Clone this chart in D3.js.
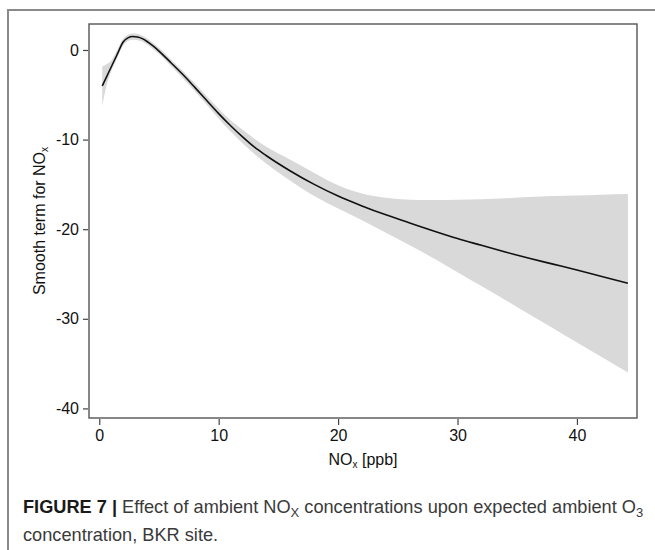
<!DOCTYPE html>
<html>
<head>
<meta charset="utf-8">
<script src="https://cdn.jsdelivr.net/npm/d3@7"></script>
<style>
  body { margin: 0; background: #fff; }
  svg { display: block; font-family: 'Liberation Sans', Arial, sans-serif; }
  .axis text { font-size: 16px; fill: #111; }
  .axis line { stroke: #444; stroke-width: 1.2; }
  .caption { font-size: 18.2px; fill: #3a3a3a; }
</style>
</head>
<body>
<div id="chart"></div>
<script>
const nox = [0.25, 0.6, 1.0, 1.5, 2.0, 2.4, 2.8, 3.2, 3.6, 4.0, 4.5, 5, 6, 7, 8, 9, 10, 11, 12, 13,
  14, 16, 18, 20, 22, 24, 26, 28, 30, 32, 34, 36, 38, 40, 42, 44.27];

// fitted smooth term
const fit = [-4.0, -3.02, -1.9, -0.5, 0.9, 1.35, 1.5, 1.45, 1.27, 0.95, 0.45, -0.12, -1.42, -2.74, -4.17,
  -5.64, -7.1, -8.45, -9.7, -10.85, -11.8, -13.5, -15.0, -16.3, -17.4, -18.4, -19.3, -20.2, -21.05,
  -21.8, -22.55, -23.25, -23.9, -24.55, -25.25, -26.04];

// confidence band
const upper = [-1.85, -1.6, -1.2, 0.0, 1.25, 1.7, 1.85, 1.8, 1.6, 1.3, 0.8, 0.25, -1.05, -2.35, -3.75,
  -5.15, -6.55, -7.85, -8.9, -9.9, -10.8, -12.25, -13.72, -15.1, -16.02, -16.5, -16.7, -16.75,
  -16.72, -16.65, -16.55, -16.4, -16.3, -16.25, -16.15, -16.07];
const lower = [-6.25, -4.0, -2.4, -0.9, 0.5, 1.0, 1.15, 1.1, 0.95, 0.6, 0.1, -0.45, -1.8, -3.15, -4.6,
  -6.1, -7.65, -9.1, -10.4, -11.6, -12.7, -14.6, -16.3, -17.7, -19.0, -20.4, -21.8, -23.25, -24.8,
  -26.35, -27.9, -29.5, -31.05, -32.65, -34.2, -36.0];

const xTicks = [0, 10, 20, 30, 40];
const yTicks = [0, -10, -20, -30, -40];

const width = 655;
const height = 550;
const plot = { left: 89, right: 637, top: 24, bottom: 418 };

const svg = d3.select('#chart')
  .append('svg')
  .attr('width', width)
  .attr('height', height);

// figure frame (left and top edge only)
svg.append('path')
  .attr('d', `M8,${height}V10H${width}`)
  .attr('fill', 'none')
  .attr('stroke', '#8a8a8a')
  .attr('stroke-width', 2);

const x = d3.scaleLinear()
  .domain([-0.86, 45.03])
  .range([plot.left, plot.right]);

const y = d3.scaleLinear()
  .domain([-41.07, 2.9])
  .range([plot.bottom, plot.top]);

const rows = nox.map((v, i) => ({
  x: v, fit: fit[i], upper: upper[i], lower: lower[i],
}));

const band = d3.area()
  .x(d => x(d.x))
  .y0(d => y(d.lower))
  .y1(d => y(d.upper))
  .curve(d3.curveMonotoneX);

const line = d3.line()
  .x(d => x(d.x))
  .y(d => y(d.fit))
  .curve(d3.curveMonotoneX);

svg.append('path')
  .datum(rows)
  .attr('d', band)
  .attr('fill', '#d9d9d9');

svg.append('path')
  .datum(rows)
  .attr('d', line)
  .attr('fill', 'none')
  .attr('stroke', '#111')
  .attr('stroke-width', 1.6);

svg.append('rect')
  .attr('x', plot.left)
  .attr('y', plot.top)
  .attr('width', plot.right - plot.left)
  .attr('height', plot.bottom - plot.top)
  .attr('fill', 'none')
  .attr('stroke', '#555')
  .attr('stroke-width', 1.4);

const axisBottom = svg.append('g')
  .attr('class', 'axis')
  .attr('transform', `translate(0, ${plot.bottom + 1})`)
  .call(d3.axisBottom(x).tickValues(xTicks).tickSize(6).tickPadding(5));
axisBottom.select('.domain').remove();

const axisLeft = svg.append('g')
  .attr('class', 'axis')
  .attr('transform', `translate(${plot.left - 1}, 0)`)
  .call(d3.axisLeft(y).tickValues(yTicks).tickSize(5).tickPadding(4));
axisLeft.select('.domain').remove();
axisLeft.selectAll('text').text(d => (d < 0 ? `-${Math.abs(d)}` : d));

axisBottom.selectAll('text').attr('font-family', null).attr('font-size', null);
axisLeft.selectAll('text').attr('font-family', null).attr('font-size', null);

// axis titles
const xTitle = svg.append('text')
  .attr('x', (plot.left + plot.right) / 2)
  .attr('y', 465)
  .attr('text-anchor', 'middle')
  .attr('font-size', 16)
  .attr('fill', '#111');
xTitle.append('tspan').text('NO');
xTitle.append('tspan').attr('font-size', 10).attr('dy', 3).text('x');
xTitle.append('tspan').attr('dy', -3).text(' [ppb]');

const yTitle = svg.append('text')
  .attr('transform', `translate(45, ${(plot.top + plot.bottom) / 2}) rotate(-90)`)
  .attr('text-anchor', 'middle')
  .attr('font-size', 16)
  .attr('fill', '#111');
yTitle.append('tspan').text('Smooth term for NO');
yTitle.append('tspan').attr('font-size', 10).attr('dy', 3).text('x');

// figure caption
const cap1 = svg.append('text')
  .attr('class', 'caption')
  .attr('x', 23)
  .attr('y', 513);
cap1.append('tspan').attr('font-weight', 'bold').attr('fill', '#1a1a1a').text('FIGURE 7 | ');
cap1.append('tspan').text('Effect of ambient NO');
cap1.append('tspan').attr('font-size', 13).attr('dy', 4).text('X');
cap1.append('tspan').attr('dy', -4).text(' concentrations upon expected ambient O');
cap1.append('tspan').attr('font-size', 13).attr('dy', 4).text('3');

svg.append('text')
  .attr('class', 'caption')
  .attr('x', 23)
  .attr('y', 541)
  .text('concentration, BKR site.');
</script>
</body>
</html>
